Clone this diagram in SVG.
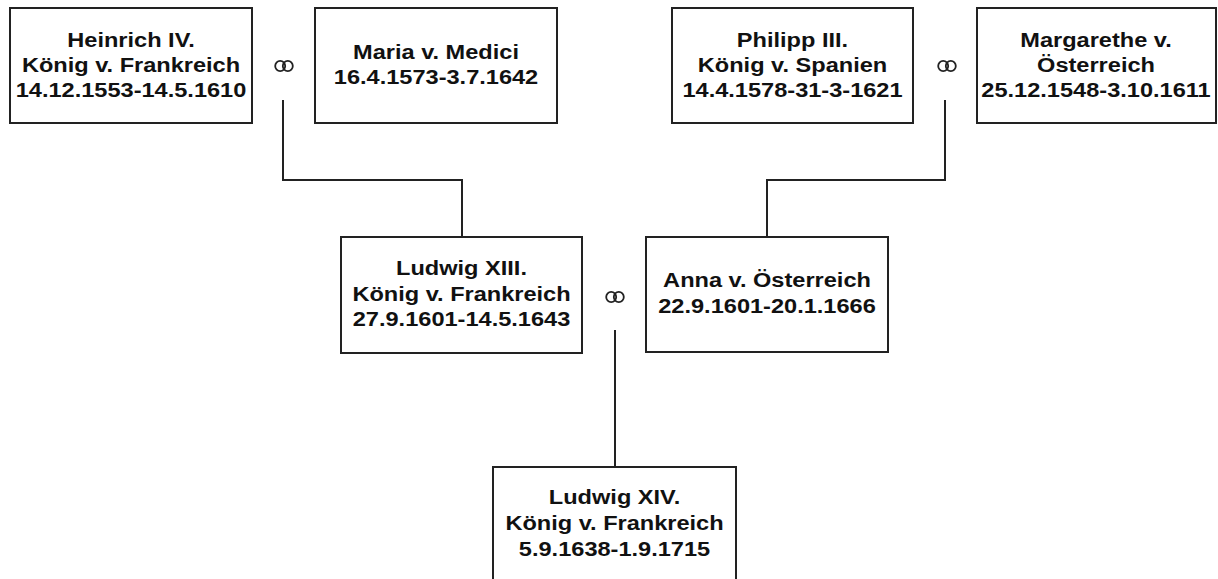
<svg xmlns="http://www.w3.org/2000/svg" width="1218" height="579" viewBox="0 0 1218 579">
<style>
.box{fill:#fff;stroke:#222;stroke-width:2}
.t{font-family:"Liberation Sans",Arial,sans-serif;font-weight:bold;font-size:20.5px;fill:#111;text-anchor:middle}
.ring{fill:none;stroke:#222;stroke-width:1.8}
.c{fill:none;stroke:#222;stroke-width:2}
</style>
<defs>
<g id="rings"><ellipse class="ring" cx="-3.8" cy="0" rx="5" ry="5.2"/><ellipse class="ring" cx="3.8" cy="0" rx="5" ry="5.2"/></g>
</defs>
<rect width="1218" height="579" fill="#fff"/>
<g id="connectors">
<path class="c" d="M283,100 V180 H462 V237"/>
<path class="c" d="M945,100 V180 H767 V237"/>
<path class="c" d="M615,330 V467"/>
</g>
<g id="marriage-symbols">
<use href="#rings" x="284" y="66"/>
<use href="#rings" x="947" y="66"/>
<use href="#rings" x="615" y="297"/>
</g>
<g id="heinrich">
<rect class="box" x="10" y="8" width="242" height="115"/>
<g transform="translate(131 0) scale(1.15 1)"><text class="t" x="0" y="47">Heinrich IV.</text><text class="t" x="0" y="72">König v. Frankreich</text><text class="t" x="0" y="97">14.12.1553-14.5.1610</text></g>
</g>
<g id="maria">
<rect class="box" x="315" y="8" width="242" height="115"/>
<g transform="translate(436 0) scale(1.15 1)"><text class="t" x="0" y="59">Maria v. Medici</text><text class="t" x="0" y="84">16.4.1573-3.7.1642</text></g>
</g>
<g id="philipp">
<rect class="box" x="672" y="8" width="241" height="115"/>
<g transform="translate(792.5 0) scale(1.15 1)"><text class="t" x="0" y="47">Philipp III.</text><text class="t" x="0" y="72">König v. Spanien</text><text class="t" x="0" y="97">14.4.1578-31-3-1621</text></g>
</g>
<g id="margarethe">
<rect class="box" x="977" y="8" width="239" height="115"/>
<g transform="translate(1096 0) scale(1.15 1)"><text class="t" x="0" y="47">Margarethe v.</text><text class="t" x="0" y="72">Österreich</text><text class="t" x="0" y="97">25.12.1548-3.10.1611</text></g>
</g>
<g id="ludwig13">
<rect class="box" x="341" y="237" width="241" height="116"/>
<g transform="translate(461.5 0) scale(1.15 1)"><text class="t" x="0" y="275">Ludwig XIII.</text><text class="t" x="0" y="301">König v. Frankreich</text><text class="t" x="0" y="326">27.9.1601-14.5.1643</text></g>
</g>
<g id="anna">
<rect class="box" x="646" y="237" width="242" height="115"/>
<g transform="translate(767 0) scale(1.15 1)"><text class="t" x="0" y="287">Anna v. Österreich</text><text class="t" x="0" y="313">22.9.1601-20.1.1666</text></g>
</g>
<g id="ludwig14">
<rect class="box" x="493" y="467" width="243" height="125"/>
<g transform="translate(614.5 0) scale(1.15 1)"><text class="t" x="0" y="504">Ludwig XIV.</text><text class="t" x="0" y="530">König v. Frankreich</text><text class="t" x="0" y="556">5.9.1638-1.9.1715</text></g>
</g>
</svg>
